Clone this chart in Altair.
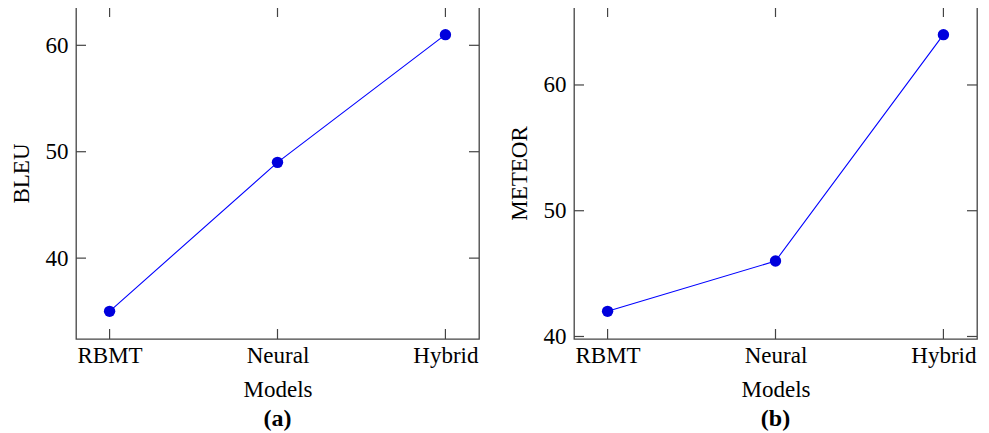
import altair as alt
import pandas as pd

models = ["RBMT", "Neural", "Hybrid"]
bleu = [35, 49, 61]
meteor = [42, 46, 64]
bleu_ticks = [40, 50, 60]
meteor_ticks = [40, 50, 60]
captions = ["(a)", "(b)"]

FONT = "Liberation Serif"
W, H = 403, 332
TICK = 10
FRAME = "#444444"
FS = 23


def panel(values, ticks, ytitle, ydomain, caption):
    df = pd.DataFrame({"Model": models, "v": values})
    tdf = pd.DataFrame({"t": ticks})
    mdf = pd.DataFrame({"Model": models})
    xs = alt.Scale(type="point", domain=models, padding=0.2)
    ys = alt.Scale(domain=ydomain, nice=False, zero=False)
    xenc = alt.X("Model:N", scale=xs, sort=models,
                 axis=alt.Axis(title="Models", labelAngle=0, ticks=False, tickSize=0,
                               domain=False, grid=False, labelPadding=5,
                               titlePadding=11, labelFont=FONT, titleFont=FONT,
                               labelFontSize=FS, titleFontSize=FS,
                               labelColor="black", titleColor="black",
                               titleFontWeight="normal"))
    yenc = alt.Y("v:Q", scale=ys,
                 axis=alt.Axis(title=ytitle, values=ticks, ticks=False, tickSize=0,
                               domain=False, grid=False, labelPadding=8,
                               titlePadding=12, labelFont=FONT, titleFont=FONT,
                               labelFontSize=FS, titleFontSize=FS,
                               labelColor="black", titleColor="black",
                               titleFontWeight="normal"))
    line = alt.Chart(df).mark_line(color="#0000ff", strokeWidth=1.1).encode(x=xenc, y=yenc)
    pts = alt.Chart(df).mark_circle(color="#0000dd", opacity=1, size=130).encode(
        x=alt.X("Model:N", scale=xs, sort=models), y=alt.Y("v:Q", scale=ys))
    yl = alt.Chart(tdf).mark_rule(color=FRAME, strokeWidth=1.2).encode(
        y=alt.Y("t:Q", scale=ys), x=alt.value(0), x2=alt.value(TICK))
    yr = alt.Chart(tdf).mark_rule(color=FRAME, strokeWidth=1.2).encode(
        y=alt.Y("t:Q", scale=ys), x=alt.value(W - TICK), x2=alt.value(W))
    xb = alt.Chart(mdf).mark_rule(color=FRAME, strokeWidth=1.2).encode(
        x=alt.X("Model:N", scale=xs, sort=models), y=alt.value(H - TICK), y2=alt.value(H))
    xt = alt.Chart(mdf).mark_rule(color=FRAME, strokeWidth=1.2).encode(
        x=alt.X("Model:N", scale=xs, sort=models), y=alt.value(0), y2=alt.value(TICK))
    return alt.layer(line, yl, yr, xb, xt, pts).properties(
        width=W, height=H,
        title=alt.TitleParams(caption, orient="bottom", font=FONT, fontSize=24,
                              fontWeight="bold", color="black", offset=6))


left = panel(bleu, bleu_ticks, "BLEU", [32.4, 63.6], captions[0])
right = panel(meteor, meteor_ticks, "METEOR", [39.8, 66.2], captions[1])

chart = alt.hconcat(left, right, spacing=26).properties(
    padding={"left": 1, "top": -3, "right": 0, "bottom": 0},
    background="white",
).configure_view(stroke=FRAME, strokeWidth=1.3)

chart.save("out.html", embed_options={"renderer": "svg", "actions": False})
